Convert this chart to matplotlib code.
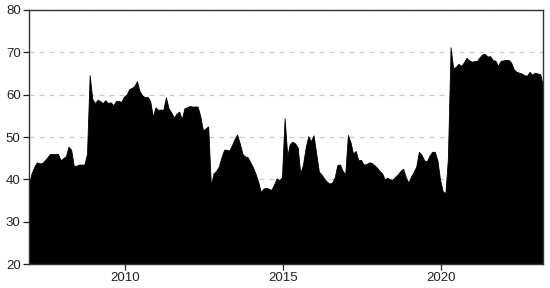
import matplotlib
matplotlib.use("Agg")
import matplotlib.pyplot as plt
import pandas as pd
import numpy as np

start_month = "2006-12-01"
values = [
    39, 41.5, 43, 44, 43.8, 43.8, 44.5, 45.2, 46, 46, 46, 46,
    44.5, 45, 45.5, 47.7, 47, 43.2, 43.2, 43.5, 43.5, 43.5, 46, 64.6,
    59, 58, 58.8, 58.5, 58, 58.7, 58, 58.2, 57.5, 58.5, 58.5, 58.3,
    59.5, 60, 61.3, 61.6, 62, 63.2, 60.8, 59.8, 59.4, 59.5, 58.5, 54.8,
    57, 56.4, 56.5, 56.4, 59.4, 56.8, 55.8, 54.6, 55.5, 56, 54.2, 56.8,
    57, 57.3, 57.2, 57.2, 57.2, 55, 51.6, 52, 52.5, 38.5, 41.4, 42,
    43, 45.2, 47, 47, 46.8, 48, 49.5, 50.6, 48.5, 46, 45.4, 45.2,
    44, 42.8, 41.2, 39.5, 37, 37.8, 38, 37.8, 37.5, 38.8, 40.2, 39.8,
    40.5, 54.4, 45.5, 48.3, 48.9, 48.5, 47.5, 41.4, 43.5, 47.5, 50.2, 49,
    50.4, 46.1, 41.8, 41.2, 40.2, 39.5, 39, 39.2, 40.4, 43.4, 43.5, 42,
    41.2, 50.5, 48.7, 46.1, 46.7, 44.5, 44.6, 43.5, 43.6, 44, 43.9, 43.4,
    42.8, 42, 41.4, 40, 40.4, 40, 39.9, 40.6, 41.2, 42, 42.5, 40.5,
    39.2, 40.7, 41.8, 43, 46.5, 45.8, 44.5, 44.2, 45.6, 46.5, 46.5, 44.5,
    40, 37.2, 36.7, 45, 71.2, 66.2, 66.6, 67.3, 66.8, 67.6, 68.7, 68.1,
    67.8, 67.9, 68, 68.8, 69.5, 69.6, 69, 69.1, 68.2, 68, 66.8, 68,
    68.1, 68.2, 68.2, 67.6, 66, 65.4, 65.2, 65, 64.6, 64.5, 65.4, 64.7,
    65.2, 65.0, 64.8, 62.3,
]
y_ticks = [20, 30, 40, 50, 60, 70, 80]
x_tick_years = [2010, 2015, 2020]

dates = pd.date_range(start_month, periods=len(values), freq="MS") + pd.Timedelta(days=14)

plt.rcParams["font.family"] = ["Liberation Sans", "DejaVu Sans"]
fig = plt.figure(figsize=(5.5, 2.88), dpi=100)
ax = fig.add_axes([0.0527, 0.0833, 0.9340, 0.8820])

ax.fill_between(dates, 20, values, color="black", linewidth=0.6, edgecolor="black", zorder=2)
ax.set_xlim(dates[0], dates[-1])
ax.set_ylim(20, 80)
ax.set_yticks(y_ticks)
ax.set_xticks([pd.Timestamp(f"{y}-01-01") for y in x_tick_years])
ax.set_xticklabels([str(y) for y in x_tick_years])
ax.grid(axis="y", color="#cccccc", linestyle=(0, (4, 4)), linewidth=0.9, zorder=1)
ax.grid(axis="x", visible=False)
for s in ax.spines.values():
    s.set_color("#333333")
    s.set_linewidth(1.0)
ax.tick_params(axis="both", labelsize=9.5, colors="#222222", length=4, width=0.9, pad=2)
ax.set_axisbelow(True)

fig.savefig("out.png", dpi=100)
